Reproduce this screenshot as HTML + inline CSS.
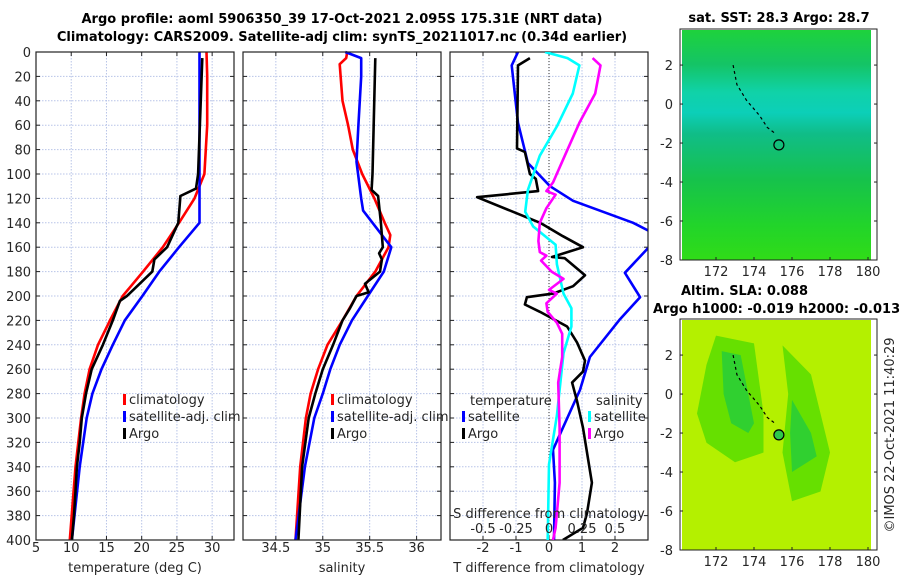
<!DOCTYPE html>
<html><head><meta charset="utf-8"><style>
html,body{margin:0;padding:0;background:#fff;width:900px;height:580px;overflow:hidden}
svg{display:block;font-family:"DejaVu Sans","Liberation Sans",sans-serif}
</style></head><body>
<svg id="c" width="900" height="580" xmlns="http://www.w3.org/2000/svg">
<text x="342" y="23" text-anchor="middle" font-size="13" font-weight="bold" fill="#000">Argo profile: aoml 5906350_39 17-Oct-2021 2.095S 175.31E (NRT data)</text>
<text x="342" y="41" text-anchor="middle" font-size="13" font-weight="bold" fill="#000">Climatology: CARS2009. Satellite-adj clim: synTS_20211017.nc (0.34d earlier)</text>
</svg>
<script>
// ---- data ----
const depthTicks=[0,20,40,60,80,100,120,140,160,180,200,220,240,260,280,300,320,340,360,380,400];
const tTicks=[5,10,15,20,25,30];
const sTicks=[34.5,35,35.5,36];
const dTTicks=[-2,-1,0,1,2];
const dSTicks=[-0.5,-0.25,0,0.25,0.5];
const dSTickLabels=["-0.5","-0.25","0","0.25","0.5"];
const tClimDepth=[0,20,60,80,100,120,140,160,180,200,220,240,260,280,300,340,400];
const tClim=[29.2,29.3,29.3,29.1,28.9,27.5,25.3,23.0,20.2,17.3,15.5,13.8,12.6,11.9,11.4,10.6,9.8];
const tSatDepth=[0,140,160,180,200,220,240,260,280,300,340,400];
const tSat=[28.2,28.2,25.3,22.5,20.1,17.6,15.9,14.3,13.0,12.2,11.2,10.1];
const tArgoDepth=[5,100,112,118,140,160,170,180,190,200,204,220,240,260,280,300,320,340,360,380,400];
const tArgo=[28.6,28.0,27.7,25.5,25.2,23.6,21.8,21.5,19.7,17.9,16.9,15.9,14.5,12.9,12.1,11.5,11.2,10.8,10.6,10.4,10.1];
const sClimDepth=[0,5,10,40,60,80,100,120,140,150,160,180,200,220,240,260,280,300,340,400];
const sClim=[35.26,35.25,35.18,35.21,35.27,35.32,35.42,35.55,35.66,35.72,35.70,35.56,35.36,35.21,35.05,34.95,34.87,34.82,34.76,34.71];
const sSatDepth=[0,5,20,60,90,120,130,160,180,200,220,240,260,280,300,340,400];
const sSat=[35.24,35.41,35.41,35.38,35.36,35.41,35.43,35.73,35.65,35.48,35.31,35.18,35.08,35.0,34.91,34.81,34.71];
const sArgoDepth=[5,100,113,118,140,160,165,170,180,190,197,200,210,220,240,260,280,300,340,400];
const sArgo=[35.56,35.53,35.52,35.59,35.62,35.64,35.60,35.63,35.61,35.45,35.49,35.36,35.29,35.21,35.11,35.0,34.92,34.85,34.78,34.74];
const dTSatDepth=[0,11,58,91,110,122,140,149,155,181,201,219,250,277,326,353,400];
const dTSat=[-0.94,-1.13,-0.94,-0.64,0.03,0.73,2.55,3.2,3.2,2.3,2.76,2.15,1.24,0.94,0.12,0.18,0.15];
const dTArgoDepth=[5,11,79,82,100,104,114,119,140,151,160,168,169,183,192,198,201,207,213,225,238,253,262,271,286,308,353,378,390,400];
const dTArgo=[-0.58,-0.94,-0.97,-0.73,-0.58,-0.4,-0.33,-2.18,-0.27,0.42,1.03,0.09,0.48,1.09,0.73,0.12,-0.67,-0.73,-0.27,0.55,0.85,1.09,1.03,0.7,0.85,1.03,1.3,1.15,1.03,0.42];
const dSSatDepth=[0,5,11,34,61,85,113,131,143,158,174,198,210,225,247,277,298,338,400];
const dSSat=[-0.03,0.14,0.23,0.18,0.06,-0.07,-0.16,-0.18,-0.12,0.05,0.06,0.11,0.17,0.17,0.11,0.08,0.06,0.0,-0.01];
const dSArgoDepth=[5,11,34,58,85,107,114,117,128,140,155,164,167,171,180,186,195,198,206,213,222,231,250,271,308,353,390,400];
const dSArgo=[0.33,0.39,0.35,0.23,0.12,0.03,-0.02,0.05,-0.02,-0.07,-0.08,-0.07,-0.02,-0.06,0.02,0.11,0.0,0.06,-0.02,-0.01,0.06,0.1,0.1,0.07,0.08,0.08,0.05,0.03];
const lonTicks=[172,174,176,178,180];
const latTicks=[2,0,-2,-4,-6,-8];

const svg=document.getElementById('c');const NS="http://www.w3.org/2000/svg";
function el(t,a,p){const e=document.createElementNS(NS,t);for(const k in a)e.setAttribute(k,a[k]);(p||svg).appendChild(e);return e;}
const Y0=52,Y1=540;
const yD=d=>Y0+(Y1-Y0)*d/400;
function panel(x0,x1,vmin,vmax,name){
  const g=el('g',{});
  
  
  return {g,x:v=>x0+(x1-x0)*(v-vmin)/(vmax-vmin),x0,x1};
}
function grid(P,xt,name,lblY,labels,yLabels){
  xt.forEach((v,i)=>{const X=P.x(v);
    el('line',{x1:X,y1:Y0,x2:X,y2:Y1,stroke:'#b8c4e8','stroke-dasharray':'1.5,1.5','stroke-width':1},P.g);
    el('line',{x1:X,y1:Y1,x2:X,y2:Y1-4,stroke:'#222'},P.g);el('line',{x1:X,y1:Y0,x2:X,y2:Y0+4,stroke:'#222'},P.g);
    if(lblY){const t=el('text',{x:X,y:lblY,'text-anchor':'middle','font-size':13,fill:'#262626'},P.g);t.textContent=labels?labels[i]:v;
      
      }
  });
  depthTicks.forEach(d=>{const Y=yD(d);
    el('line',{x1:P.x0,y1:Y,x2:P.x1,y2:Y,stroke:'#b8c4e8','stroke-dasharray':'1.5,1.5'},P.g);
    el('line',{x1:P.x0,y1:Y,x2:P.x0+4,y2:Y,stroke:'#222'},P.g);el('line',{x1:P.x1,y1:Y,x2:P.x1-4,y2:Y,stroke:'#222'},P.g);
    if(yLabels){const t=el('text',{x:P.x0-5,y:Y+5,'text-anchor':'end','font-size':13,fill:'#262626'},P.g);t.textContent=d;
      
      }
  });
}
function line(P,ds,vs,col,name,clip){
  const pts=ds.map((d,i)=>P.x(vs[i]).toFixed(1)+','+yD(d).toFixed(1)).join(' ');
  const a={points:pts,fill:'none',stroke:col,'stroke-width':2.6,'stroke-linejoin':'round'};
  if(clip)a['clip-path']='url(#'+clip+')';
  const p=el('polyline',a,P.g);
  
  
}
function box(P){el('rect',{x:P.x0,y:Y0,width:P.x1-P.x0,height:Y1-Y0,fill:'none',stroke:'#222','stroke-width':1.2},P.g);}
function txt(x,y,s,name,o){const t=el('text',Object.assign({x,y,'font-size':13,fill:'#262626'},o||{}));t.textContent=s;
  
  return t;}
function legend(x,y,col,label,name){el('rect',{x:x,y:y-10,width:3,height:11,fill:col});txt(x+6,y,label,name);}

// panel 1
const P1=panel(36,234,5,33.1,'temperature-panel');
grid(P1,tTicks,'temperature',552,null,true);
line(P1,tClimDepth,tClim,'#f00','temperature-climatology-line');
line(P1,tSatDepth,tSat,'#00f','temperature-satellite-line');
line(P1,tArgoDepth,tArgo,'#000','temperature-argo-line');
box(P1);
txt(135,572,'temperature (deg C)','temperature-x-axis-title',{'text-anchor':'middle'});
legend(123,404,'#f00','climatology','legend-climatology');
legend(123,421,'#00f','satellite-adj. clim','legend-satellite-adj');
legend(123,438,'#000','Argo','legend-argo');
// panel 2
const P2=panel(243,441,34.15,36.26,'salinity-panel');
grid(P2,sTicks,'salinity',552,null,false);
line(P2,sClimDepth,sClim,'#f00','salinity-climatology-line');
line(P2,sSatDepth,sSat,'#00f','salinity-satellite-line');
line(P2,sArgoDepth,sArgo,'#000','salinity-argo-line');
box(P2);
txt(342,572,'salinity','salinity-x-axis-title',{'text-anchor':'middle'});
legend(331,404,'#f00','climatology','legend-climatology-2');
legend(331,421,'#00f','satellite-adj. clim','legend-satellite-adj-2');
legend(331,438,'#000','Argo','legend-argo-2');
// panel 3
const defs=el('defs',{});
const cp=el('clipPath',{id:'cp3'},defs);
el('rect',{x:450,y:Y0,width:198,height:Y1-Y0},cp);
const P3=panel(450,648,-3,3,'difference-panel');
const P3s=panel(450,648,-0.75,0.75,'difference-panel-salinity');
grid(P3,dTTicks,'temperature-difference',552,null,false);
el('line',{x1:P3.x(0),y1:Y0,x2:P3.x(0),y2:Y1,stroke:'#333','stroke-dasharray':'1,2'},P3.g);
line(P3,dTSatDepth,dTSat,'#00f','temperature-diff-satellite-line','cp3');
line(P3,dTArgoDepth,dTArgo,'#000','temperature-diff-argo-line','cp3');
line(P3s,dSSatDepth,dSSat,'#0ff','salinity-diff-satellite-line','cp3');
line(P3s,dSArgoDepth,dSArgo,'#f0f','salinity-diff-argo-line','cp3');
box(P3);
dSTicks.forEach((v,i)=>txt(P3s.x(v),533,dSTickLabels[i],'salinity-difference-tick-label',{'text-anchor':'middle'}));
txt(549,518,'S difference from climatology','salinity-difference-axis-title',{'text-anchor':'middle'});
txt(549,572,'T difference from climatology','temperature-difference-axis-title',{'text-anchor':'middle'});
txt(470,405,'temperature','legend-temperature-header');
legend(462,421,'#00f','satellite','legend-temp-satellite');
legend(462,438,'#000','Argo','legend-temp-argo');
txt(596,405,'salinity','legend-salinity-header');
legend(588,421,'#0ff','satellite','legend-sal-satellite');
legend(588,438,'#f0f','Argo','legend-sal-argo');

// maps
function map(y0,y1,kind,name){
  const g=el('g',{});
  
  
  const lx=v=>716+(v-172)*19.0; const ly=v=>y1-(v+8)*(y1-y0)/11.85;
  if(kind==='sst'){
    const gr=el('linearGradient',{id:'gsst',x1:0,y1:0,x2:0,y2:1},el('defs',{},g));
    [[0,'#1ed23c'],[0.15,'#14c466'],[0.27,'#10d2a8'],[0.36,'#0ccfb8'],[0.45,'#10bd88'],[0.65,'#16c24c'],[0.85,'#22d42a'],[1,'#30dc18']].forEach(s=>el('stop',{offset:s[0],'stop-color':s[1]},gr));
    el('rect',{x:682,y:y0+1,width:189,height:y1-y0-1,fill:'url(#gsst)'},g);
  } else {
    el('rect',{x:682,y:y0+1,width:189,height:y1-y0-1,fill:'#b4f000'},g);
    el('polygon',{points:[[172,3],[174,2.6],[174.5,-1],[174.5,-3],[173,-3.5],[171.5,-2.5],[171,-1],[171.5,1.5]].map(p=>lx(p[0])+','+ly(p[1])).join(' '),fill:'#66e000'},g);
    el('polygon',{points:[[175.5,2.5],[177,1],[178,-3],[177.5,-5],[176,-5.5],[175.5,-3],[175.8,0]].map(p=>lx(p[0])+','+ly(p[1])).join(' '),fill:'#66e000'},g);
    el('polygon',{points:[[172.3,2.2],[173.3,2],[174,-1.5],[173.7,-2],[172.8,-1.5],[172.4,0]].map(p=>lx(p[0])+','+ly(p[1])).join(' '),fill:'#30d030'},g);
    el('polygon',{points:[[176,-0.3],[177,-2],[177.3,-3.2],[176,-4],[175.9,-2]].map(p=>lx(p[0])+','+ly(p[1])).join(' '),fill:'#30d030'},g);
  }
  el('circle',{cx:lx(175.31),cy:ly(-2.095),r:5,fill:kind==='sst'?'none':'#2ec84a',stroke:'#000','stroke-width':1.2},g);
  el('polyline',{points:[[172.9,2],[173.1,1],[173.6,0.2],[174.3,-0.6],[174.7,-1.2],[175.1,-1.5]].map(p=>lx(p[0])+','+ly(p[1])).join(' '),fill:'none',stroke:'#000','stroke-dasharray':'3,3','stroke-width':1.2},g);
  el('rect',{x:680,y:y0,width:197,height:y1-y0,fill:'none',stroke:'#222'},g);
  lonTicks.forEach(v=>{el('line',{x1:lx(v),y1:y1,x2:lx(v),y2:y1-3,stroke:'#222'},g);
    const t=el('text',{x:lx(v),y:y1+16,'text-anchor':'middle','font-size':13,fill:'#262626'},g);t.textContent=v;
    
    });
  latTicks.forEach(v=>{el('line',{x1:680,y1:ly(v),x2:683,y2:ly(v),stroke:'#222'},g);el('line',{x1:877,y1:ly(v),x2:874,y2:ly(v),stroke:'#222'},g);
    const t=el('text',{x:673,y:ly(v)+5,'text-anchor':'end','font-size':13,fill:'#262626'},g);t.textContent=v;
    
    });
}
map(29,260,'sst','sst-map');
map(319,550,'sla','sla-map');
txt(779,22,'sat. SST: 28.3 Argo: 28.7','sst-map-title',{'text-anchor':'middle','font-weight':'bold',fill:'#000'});
txt(681,295,'Altim. SLA: 0.088','sla-map-title',{'font-weight':'bold',fill:'#000'});
txt(653,313,'Argo h1000: -0.019 h2000: -0.013','sla-map-subtitle',{'font-weight':'bold',fill:'#000'});
txt(0,0,'©IMOS 22-Oct-2021 11:40:29','imos-timestamp',{'text-anchor':'middle',transform:'translate(894,435) rotate(-90)'});
</script>
</body></html>
